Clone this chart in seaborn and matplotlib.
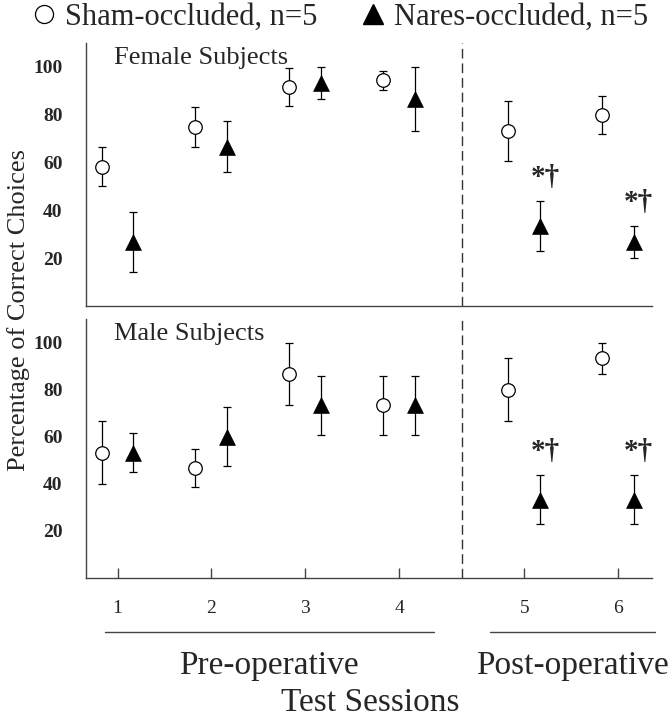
import matplotlib
matplotlib.use("Agg")
import matplotlib.pyplot as plt
import matplotlib.transforms as mtrans
from matplotlib.lines import Line2D
import numpy as np
import pandas as pd
import seaborn as sns

# data (mean +/- SE, percent correct)
sessions = [1, 2, 3, 4, 5, 6]
session_pos = [1, 2, 3, 4, 5.33, 6.33]   # gap between pre- and post-operative
female_sham = [58.3, 75.0, 91.7, 94.4, 73.3, 80.0]
female_sham_err = [8.3, 8.3, 8.0, 4.0, 12.5, 8.0]
female_nares = [26.7, 66.7, 93.3, 86.7, 33.3, 26.7]
female_nares_err = [12.5, 10.5, 6.7, 13.3, 10.5, 6.7]
male_sham = [53.3, 46.7, 86.7, 73.3, 80.0, 93.3]
male_sham_err = [13.3, 8.0, 13.3, 12.5, 13.3, 6.7]
male_nares = [53.3, 60.0, 73.3, 73.3, 33.3, 33.3]
male_nares_err = [8.3, 12.5, 12.5, 12.5, 10.5, 10.5]
signif_sessions = [5, 6]
signif_mark = "*\u2020"

rows = []
for panel, sham, sham_e, nar, nar_e in [("Female", female_sham, female_sham_err, female_nares, female_nares_err),
                                        ("Male", male_sham, male_sham_err, male_nares, male_nares_err)]:
    for i, s in enumerate(sessions):
        rows.append(dict(panel=panel, group="Sham", session=s, x=session_pos[i] - 0.17, mean=sham[i], err=sham_e[i]))
        rows.append(dict(panel=panel, group="Nares", session=s, x=session_pos[i] + 0.17, mean=nar[i], err=nar_e[i]))
df = pd.DataFrame(rows)

sns.set_style("white")
serif = ["Liberation Serif", "DejaVu Serif"]
plt.rcParams["font.family"] = serif

fig = plt.figure(figsize=(6.69, 7.19), dpi=100)
ax_f = fig.add_axes([0.1286, 0.5744, 0.846, 0.3658])
ax_m = fig.add_axes([0.1286, 0.1961, 0.846, 0.3602])

divider_x = (session_pos[3] + session_pos[4]) / 2

for ax, panel, title in [(ax_f, "Female", "Female Subjects"), (ax_m, "Male", "Male Subjects")]:
    sub = df[df.panel == panel]
    ax.errorbar(sub.x, sub["mean"], yerr=sub.err, fmt="none", ecolor="black",
                elinewidth=0.9, capsize=3, capthick=0.9, zorder=2)
    sh = sub[sub.group == "Sham"]
    na = sub[sub.group == "Nares"]
    sns.scatterplot(data=sh, x="x", y="mean", marker="o", s=95, color="white",
                    edgecolor="black", linewidth=0.9, ax=ax, zorder=3)
    sns.scatterplot(data=na, x="x", y="mean", marker="^", s=130, color="black",
                    edgecolor="black", linewidth=0.5, ax=ax, zorder=3)
    for _, r in na[na.session.isin(signif_sessions)].iterrows():
        ax.text(r.x + 0.05, r["mean"] + r.err + 10, signif_mark, ha="center", va="center",
                fontsize=21, fontweight="bold", family=serif)
    ax.axvline(divider_x, color="#333333", lw=1.0, ls=(0, (7, 3.5)))
    ax.set_xlim(0.665, 6.69)
    ax.set_ylim(0, 110)
    ax.set_yticks([20, 40, 60, 80, 100])
    ax.tick_params(axis="y", length=0, pad=17, labelsize=14)
    for lab in ax.get_yticklabels():
        lab.set_fontweight("bold")
    ax.set_xlabel("")
    ax.set_ylabel("")
    sns.despine(ax=ax)
    for sp in ["left", "bottom"]:
        ax.spines[sp].set_color("#444444")
        ax.spines[sp].set_linewidth(1.0)
    ax.text(0.05, 0.985, title, transform=ax.transAxes, ha="left", va="top", fontsize=19, family=serif)

ax_f.set_xticks([])
ax_m.set_xticks(session_pos)
ax_m.set_xticklabels([str(s) for s in sessions], fontsize=14)
ax_m.tick_params(axis="x", direction="in", length=7, width=1, color="#444444", pad=16, bottom=True)

# group brackets below the axis
trans = mtrans.blended_transform_factory(ax_m.transData, ax_m.transAxes)
for x0, x1, label in [(0.867, 4.367, "Pre-operative"), (4.963, 6.72, "Post-operative")]:
    ax_m.plot([x0, x1], [-0.2085, -0.2085], color="#444444", lw=1, transform=trans, clip_on=False)
    ax_m.text((x0 + x1) / 2, -0.34, label, transform=trans, ha="center", va="center", fontsize=24, family=serif)

fig.text(0.553, 0.0223, "Test Sessions", ha="center", va="center", fontsize=24, family=serif)
fig.text(0.027, 0.569, "Percentage of Correct Choices", rotation=90, ha="center", va="center",
         fontsize=19, family=serif)

handles = [Line2D([], [], ls="none", marker="o", ms=13, mfc="white", mec="black", mew=0.9),
           Line2D([], [], ls="none", marker="^", ms=15, mfc="black", mec="black")]
fig.legend(handles, ["Sham-occluded, n=5", "Nares-occluded, n=5"], loc="center left",
           bbox_to_anchor=(0.043, 0.9757), ncol=2, frameon=False,
           prop={"family": serif, "size": 22},
           handlelength=1.0, handletextpad=0.2, columnspacing=1.3, borderpad=0, borderaxespad=0)

fig.savefig("out.png", dpi=100)
